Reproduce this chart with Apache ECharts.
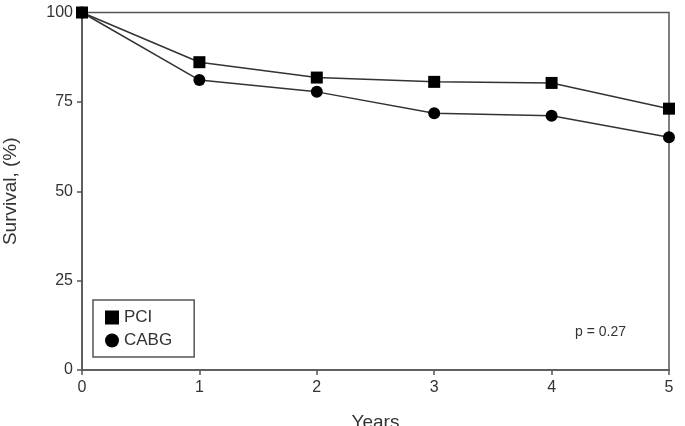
<!DOCTYPE html>
<html>
<head>
<meta charset="utf-8" />
<title>Survival</title>
<script src="https://cdn.jsdelivr.net/npm/echarts@6/dist/echarts.min.js"></script>
<style>
  html, body { margin: 0; padding: 0; background: #fff; }
  #main { width: 685px; height: 426px; }
</style>
</head>
<body>
<div id="main"></div>
<script>
var years = [0, 1, 2, 3, 4, 5];
var pci = [100, 86.1, 81.8, 80.6, 80.3, 73.1];
var cabg = [100, 81.1, 77.8, 71.8, 71.1, 65.1];
var yTicks = [0, 25, 50, 75, 100];

function pairs(ys) {
  var out = [];
  for (var i = 0; i < years.length; i++) out.push([years[i], ys[i]]);
  return out;
}

var axisCol = '#555';
var txtCol = '#333';
var font = 'Liberation Sans, Arial, sans-serif';

var chart = echarts.init(document.getElementById('main'));
chart.setOption({
  animation: false,
  grid: {
    left: 82, right: 16, top: 12.5, bottom: 56,
    outerBoundsMode: 'none', containLabel: false,
    show: true, borderColor: axisCol, borderWidth: 1.5
  },
  legend: {
    orient: 'vertical',
    left: 93, top: 300,
    padding: [9, 22, 8, 12],
    itemGap: 6,
    itemWidth: 14, itemHeight: 14,
    borderColor: axisCol, borderWidth: 1.5,
    textStyle: { fontFamily: font, fontSize: 17, color: txtCol },
    data: [{ name: 'PCI', icon: 'rect' }, { name: 'CABG', icon: 'circle' }]
  },
  xAxis: {
    type: 'value', min: 0, max: 5, interval: 1,
    name: 'Years', nameLocation: 'middle', nameGap: 43,
    nameTextStyle: { fontFamily: font, fontSize: 19, color: txtCol },
    axisLine: { lineStyle: { color: axisCol, width: 1.5 } },
    axisTick: { show: true, length: 5, lineStyle: { color: axisCol, width: 1.5 } },
    axisLabel: { fontFamily: font, fontSize: 16, color: txtCol, margin: 10 },
    splitLine: { show: false }
  },
  yAxis: {
    type: 'value', min: 0, max: 100, interval: 25,
    name: 'Survival, (%)', nameLocation: 'middle', nameGap: 62, nameRotate: 90,
    nameTextStyle: { fontFamily: font, fontSize: 19, color: txtCol },
    axisLine: { show: true, lineStyle: { color: axisCol, width: 1.5 } },
    axisTick: { show: true, length: 5, lineStyle: { color: axisCol, width: 1.5 } },
    axisLabel: {
      fontFamily: font, fontSize: 16, color: txtCol, margin: 9,
      formatter: function (v) { return yTicks.indexOf(v) >= 0 ? String(v) : ''; }
    },
    splitLine: { show: false }
  },
  series: [
    {
      name: 'PCI', type: 'line', data: pairs(pci),
      symbol: 'rect', symbolSize: 12,
      itemStyle: { color: '#000' },
      lineStyle: { color: '#333', width: 1.5 }
    },
    {
      name: 'CABG', type: 'line', data: pairs(cabg),
      symbol: 'circle', symbolSize: 12,
      itemStyle: { color: '#000' },
      lineStyle: { color: '#333', width: 1.5 }
    }
  ],
  graphic: [{
    type: 'text', left: 575, top: 325,
    style: { text: 'p = 0.27', fontFamily: font, fontSize: 14, fill: txtCol }
  }]
});
</script>
</body>
</html>
